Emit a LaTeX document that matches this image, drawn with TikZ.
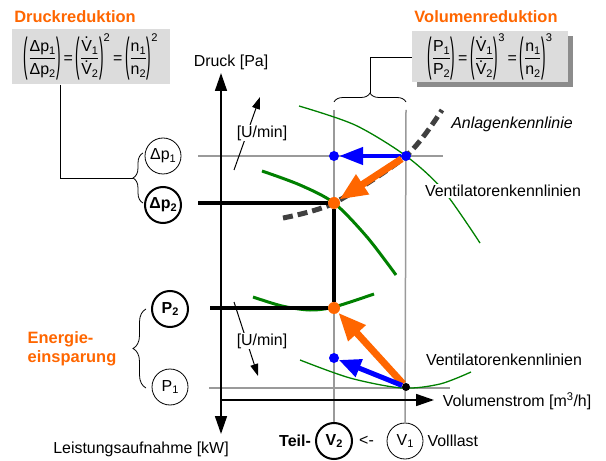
\documentclass[tikz,border=0pt]{standalone}
\usepackage{amsmath}
\usepackage{graphicx}
\usepackage{fontspec}
\setmainfont{Liberation Sans}
\usepackage{tikz}
\usetikzlibrary{arrows.meta,positioning,decorations.pathreplacing,shadows}
\definecolor{SaveOrange}{HTML}{FF6600}
\definecolor{FanGreen}{HTML}{008000}
\definecolor{PumpBlue}{HTML}{0000FF}
\definecolor{GridGray}{HTML}{9A9A9A}
\definecolor{CurveGray}{HTML}{404040}
\definecolor{BoxGray}{HTML}{DCDCDC}
\newcommand\idx[1]{\raisebox{-0.35ex}{\fontsize{11}{11}\selectfont#1}}
\newcommand\Vdot{\ooalign{V\cr\hidewidth\raisebox{0.8em}{.}\hidewidth\cr}}
\newcommand\lpar{\mathopen{\vcenter{\hbox{\scalebox{0.85}[2.9]{(}}}}}
\newcommand\rpar{\mathclose{\vcenter{\hbox{\scalebox{0.85}[2.9]{)}}}}}
\newcommand\ratio[2]{\lpar\dfrac{\text{#1}}{\text{#2}}\rpar}
\newcommand\eqs{\text{\,=\,}}

\begin{document}
\begin{tikzpicture}[x=1bp,y=-1bp,
    node distance=3bp,
    txt/.style={font=\fontsize{16}{19}\selectfont,inner sep=1bp},
    title/.style={font=\fontsize{16.5}{19}\selectfont\bfseries,text=SaveOrange,
                  inner sep=0pt,align=left},
    formula/.style={fill=BoxGray,minimum height=55bp,inner sep=0pt,
                    font=\fontsize{16}{19}\selectfont},
    ring/.style={circle,draw,line width=0.8bp,minimum size=36bp,inner sep=0pt,
                 font=\fontsize{16}{19}\selectfont},
    boldring/.style={ring,line width=2bp,font=\fontsize{16}{19}\selectfont\bfseries},
    dot/.style={circle,inner sep=0pt,minimum size=#1},
    grid/.style={GridGray,line width=1.5bp},
    level/.style={line width=3.5bp},
    axis/.style={line width=1.6bp,-{Triangle[length=18bp,width=12bp]}},
    fan/.style={FanGreen,line width=1.3bp},
    fanthick/.style={FanGreen,line width=3bp},
    system/.style={CurveGray,line width=5bp,dash pattern=on 10bp off 5bp},
    rpm/.style={line width=1bp,-{Triangle[length=12bp,width=8bp]}},
    curly/.style={decorate,decoration={brace,amplitude=#1},line width=0.8bp}]

    \useasboundingbox (0,0) rectangle (606,461);

    % formula boxes
    \node[title] (dtitle) at (75,17) {Druckreduktion};
    \node[formula,minimum width=158bp] (dbox) at (91,57)
      {$\displaystyle\ratio{Δp\idx1}{Δp\idx2}\eqs\ratio{\Vdot\idx1}{\Vdot\idx2}^{\text{2}}\eqs\ratio{n\idx1}{n\idx2}^{\text{2}}$\hspace{10bp}};
    \node[title] (vtitle) at (486,17) {Volumenreduktion};
    \node[formula,minimum width=156bp,minimum height=51bp,
          drop shadow={shadow xshift=5bp,shadow yshift=-5bp,fill=black!45,opacity=1}]
      (vbox) at (490,57)
      {$\displaystyle\ratio{P\idx1}{P\idx2}\eqs\ratio{\Vdot\idx1}{\Vdot\idx2}^{\text{3}}\eqs\ratio{n\idx1}{n\idx2}^{\text{3}}$\hspace{10bp}};

    % grid lines
    \node[ring] (v1) at (405,441) {V\idx1};
    \node[boldring] (v2) at (334,441) {V\idx2};
    \coordinate (v1top) at (406,110);
    \coordinate (v2top) at (334,110);
    \draw[grid] (v1top) -- (v1);
    \draw[grid] (v2top) -- (v2);
    \coordinate (dpl) at (198,156);
    \coordinate (dpr) at (443,156);
    \coordinate (pl) at (209,388);
    \coordinate (pr) at (450,388);
    \draw[grid] (dpl) -- (dpr);
    \draw[grid] (pl) -- (pr);

    % axes
    \coordinate (o) at (221,400);
    \coordinate (ytop) at (221,73);
    \coordinate (ybot) at (221,434);
    \coordinate (xend) at (434,400);
    \draw[axis] (o) -- (ytop);
    \draw[axis] (o) -- (ybot);
    \draw[axis] (o) -- (xend);

    % characteristic curves
    \draw[fan] plot[smooth] coordinates {(299,106) (355,125) (406,156) (443,190) (480,243)};
    \draw[fanthick] plot[smooth] coordinates {(262,171) (300,185) (334,203) (367,237) (396,275)};
    \draw[fanthick] plot[smooth] coordinates {(253,297) (282,306) (310,310) (334,307) (374,294)};
    \draw[fan] plot[smooth] coordinates {(300,360) (350,378) (402,388) (440,384) (471,372)};
    \draw[system] plot[smooth] coordinates {(283,218) (334,203) (406,156) (442,110)};

    % operating points
    \node[dot=10bp,fill=PumpBlue] (a1) at (406,156) {};
    \node[dot=10bp,fill=PumpBlue] (b1) at (334,156) {};
    \node[dot=12bp,fill=SaveOrange] (o1) at (334,203) {};
    \node[dot=12bp,fill=SaveOrange] (o2) at (334,308) {};
    \node[dot=10bp,fill=PumpBlue] (b2) at (334,358) {};
    \node[dot=8bp,fill=black] (k1) at (406,387) {};

    \coordinate (dpll) at (198,203);
    \coordinate (pll) at (210,308);
    \draw[level] (dpll) -- (o1) -- (o2) -- (pll);

    \draw[PumpBlue,line width=4.5bp,-{Triangle[length=24bp,width=17bp]}] (a1) -- (b1);
    \draw[SaveOrange,line width=7bp,-{Triangle[length=28bp,width=22bp]}] (a1) -- (o1);
    \draw[SaveOrange,line width=7bp,-{Triangle[length=28bp,width=22bp]}] (k1) -- (o2);
    \draw[PumpBlue,line width=5bp,-{Triangle[length=22bp,width=18bp]}] (k1) -- (b2);

    % speed arrows
    \coordinate (ua) at (234,170);
    \coordinate (ub) at (260,97);
    \draw[rpm] (ua) -- (ub);
    \node[txt,fill=white] (uup) at (262,133) {[U/min]};
    \coordinate (uc) at (234,302);
    \coordinate (ud) at (258,376);
    \draw[rpm] (uc) -- (ud);
    \node[txt,fill=white] (udown) at (262,341) {[U/min]};

    % left rings and braces
    \node[ring] (dp1) at (163,156) {Δp\idx1};
    \node[boldring] (dp2) at (163,205) {Δp\idx2};
    \node[boldring] (p2) at (170,309) {P\idx2};
    \node[ring] (p1) at (170,387) {P\idx1};

    \coordinate (dtip) at (133,178);
    \draw[curly=10bp] (143,203) -- (143,153);
    \draw[line width=0.8bp] (dbox.south west) ++(49,0) |- (dtip);
    \draw[curly=13bp] (146,388) -- (146,309);
    \node[title] (save) at (72,349) {Energie-\\einsparung};

    \coordinate (rtip) at (370,93);
    \draw[curly=9bp] (334,102) -- (406,102);
    \draw[line width=0.8bp] (rtip) |- (vbox.west);

    % labels
    \node[txt] (druck) at (231,62) {Druck [Pa]};
    \node[txt,font=\fontsize{16}{19}\selectfont\itshape] (anl) at (512,124) {Anlagenkennlinie};
    \node[txt,fill=white] (vent1) at (503,191) {Ventilatorenkennlinien};
    \node[txt,fill=white] (vent2) at (504,360) {Ventilatorenkennlinien};
    \node[txt] (vstrom) at (517,401) {Volumenstrom [m\textsuperscript{3}/h]};
    \node[txt] (leist) at (141,449) {Leistungsaufnahme [kW]};
    \node[txt,font=\fontsize{16}{19}\selectfont\bfseries,left=3bp of v2] (teil) {Teil-};
    \node[txt,right=5bp of v2] (from) {<-};
    \node[txt,right=3bp of v1] (voll) {Volllast};
\end{tikzpicture}
\end{document}
